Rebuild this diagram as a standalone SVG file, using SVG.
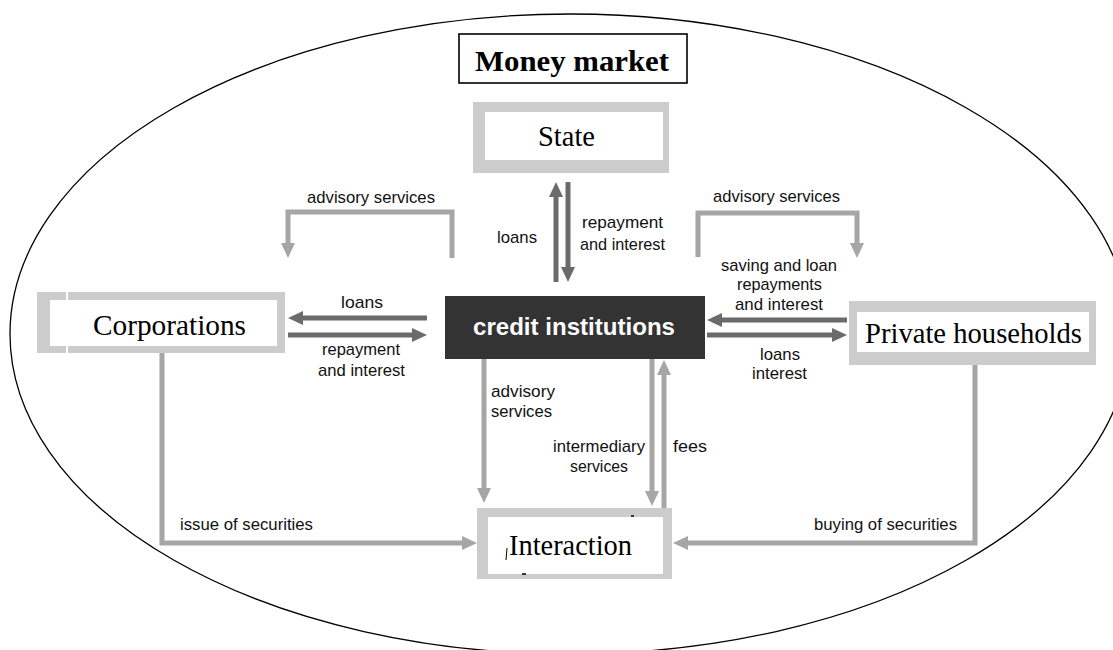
<svg xmlns="http://www.w3.org/2000/svg" width="1113" height="650" viewBox="0 0 1113 650">
<defs>
<style>
.serif{font-family:"Liberation Serif","Times New Roman",serif;fill:#000}
.lbl{font-family:"Liberation Sans",Arial,sans-serif;font-size:17px;fill:#111}
.gray{fill:#cccccc}
.inner{fill:#ffffff}
.dark{fill:none;stroke:#6b6b6b;stroke-width:5}
.light{fill:none;stroke:#a6a6a6;stroke-width:5}
</style>
<marker id="ahDark" markerUnits="userSpaceOnUse" markerWidth="15" markerHeight="14" refX="5" refY="7" orient="auto">
<path d="M0,0 L15,7 L0,14 z" fill="#6b6b6b"/>
</marker>
<marker id="ahLight" markerUnits="userSpaceOnUse" markerWidth="15" markerHeight="14" refX="5" refY="7" orient="auto">
<path d="M0,0 L15,7 L0,14 z" fill="#a6a6a6"/>
</marker>
</defs>
<rect width="1113" height="650" fill="#ffffff"/>
<ellipse id="market-boundary" cx="570" cy="334" rx="560" ry="320" fill="none" stroke="#000" stroke-width="1.3"/>

<g id="money-market">
<rect x="459" y="34" width="228" height="49" fill="#fff" stroke="#000" stroke-width="1.6"/>
<text class="serif" x="475" y="71" font-size="30" font-weight="bold" textLength="194" lengthAdjust="spacingAndGlyphs">Money market</text>
</g>

<g id="state">
<rect class="gray" x="473" y="102" width="196" height="71"/>
<rect class="inner" x="485" y="112" width="178" height="48"/>
<text class="serif" x="538" y="146" font-size="29" textLength="57" lengthAdjust="spacingAndGlyphs">State</text>
</g>

<g id="corporations">
<rect class="gray" x="37" y="292" width="248" height="61"/>
<rect class="inner" x="50" y="300" width="227" height="46"/>
<line x1="67" y1="292" x2="67" y2="353" stroke="#fff" stroke-width="2"/>
<text class="serif" x="93" y="335" font-size="29" textLength="153" lengthAdjust="spacingAndGlyphs">Corporations</text>
</g>

<g id="credit-institutions">
<rect x="445" y="296" width="260" height="63" fill="#333333"/>
<text x="473" y="335" font-family="'Liberation Sans',Arial,sans-serif" font-size="24" font-weight="bold" fill="#fff" textLength="202" lengthAdjust="spacingAndGlyphs">credit institutions</text>
</g>

<g id="private-households">
<rect class="gray" x="849" y="301" width="247" height="64"/>
<rect class="inner" x="857" y="312" width="232" height="40"/>
<text class="serif" x="865" y="343" font-size="29" textLength="217" lengthAdjust="spacingAndGlyphs">Private households</text>
</g>

<g id="interaction">
<rect class="gray" x="477" y="508" width="195" height="71"/>
<rect class="inner" x="488" y="517" width="175" height="57"/>
<text class="serif" x="509" y="555" font-size="29" textLength="123" lengthAdjust="spacingAndGlyphs">Interaction</text>
<line x1="507" y1="548" x2="506" y2="560" stroke="#000" stroke-width="1"/>
<line x1="631" y1="516" x2="634" y2="516" stroke="#000" stroke-width="1.5"/>
<line x1="522" y1="574" x2="526" y2="574" stroke="#000" stroke-width="1.5"/>
</g>

<g id="connectors">
<path class="dark" d="M556,282 L556,192" marker-end="url(#ahDark)"/>
<path class="dark" d="M568,182 L568,272" marker-end="url(#ahDark)"/>
<path class="dark" d="M427,318 L298,318" marker-end="url(#ahDark)"/>
<path class="dark" d="M288,335 L417,335" marker-end="url(#ahDark)"/>
<path class="dark" d="M847,320 L717,320" marker-end="url(#ahDark)"/>
<path class="dark" d="M707,335 L837,335" marker-end="url(#ahDark)"/>
<path class="light" d="M452,258 L452,212 L288,212 L288,248" marker-end="url(#ahLight)"/>
<path class="light" d="M698,257 L698,213 L857,213 L857,248" marker-end="url(#ahLight)"/>
<path class="light" d="M484,359 L484,493" marker-end="url(#ahLight)"/>
<path class="light" d="M652,359 L652,496" marker-end="url(#ahLight)"/>
<path class="light" d="M664,508 L664,370" marker-end="url(#ahLight)"/>
<path class="light" d="M162,353 L162,543 L467,543" marker-end="url(#ahLight)"/>
<path class="light" d="M975,365 L975,543 L683,543" marker-end="url(#ahLight)"/>
</g>

<g id="labels">
<text class="lbl" x="307" y="203" textLength="128" lengthAdjust="spacingAndGlyphs">advisory services</text>
<text class="lbl" x="713" y="202" textLength="127" lengthAdjust="spacingAndGlyphs">advisory services</text>
<text class="lbl" x="497" y="243" textLength="40" lengthAdjust="spacingAndGlyphs">loans</text>
<text class="lbl" x="582" y="228" textLength="81" lengthAdjust="spacingAndGlyphs">repayment</text>
<text class="lbl" x="580" y="250" textLength="85" lengthAdjust="spacingAndGlyphs">and interest</text>
<text class="lbl" x="341" y="308" textLength="42" lengthAdjust="spacingAndGlyphs">loans</text>
<text class="lbl" x="322" y="355" textLength="78" lengthAdjust="spacingAndGlyphs">repayment</text>
<text class="lbl" x="318" y="376" textLength="87" lengthAdjust="spacingAndGlyphs">and interest</text>
<text class="lbl" x="721" y="271" textLength="116" lengthAdjust="spacingAndGlyphs">saving and loan</text>
<text class="lbl" x="737" y="290" textLength="85" lengthAdjust="spacingAndGlyphs">repayments</text>
<text class="lbl" x="735" y="310" textLength="88" lengthAdjust="spacingAndGlyphs">and interest</text>
<text class="lbl" x="760" y="360" textLength="40" lengthAdjust="spacingAndGlyphs">loans</text>
<text class="lbl" x="752" y="379" textLength="55" lengthAdjust="spacingAndGlyphs">interest</text>
<text class="lbl" x="491" y="397" textLength="64" lengthAdjust="spacingAndGlyphs">advisory</text>
<text class="lbl" x="491" y="417" textLength="61" lengthAdjust="spacingAndGlyphs">services</text>
<text class="lbl" x="553" y="452" textLength="92" lengthAdjust="spacingAndGlyphs">intermediary</text>
<text class="lbl" x="570" y="472" textLength="58" lengthAdjust="spacingAndGlyphs">services</text>
<text class="lbl" x="673" y="452" textLength="34" lengthAdjust="spacingAndGlyphs">fees</text>
<text class="lbl" x="180" y="530" textLength="133" lengthAdjust="spacingAndGlyphs">issue of securities</text>
<text class="lbl" x="814" y="530" textLength="143" lengthAdjust="spacingAndGlyphs">buying of securities</text>
</g>
</svg>
